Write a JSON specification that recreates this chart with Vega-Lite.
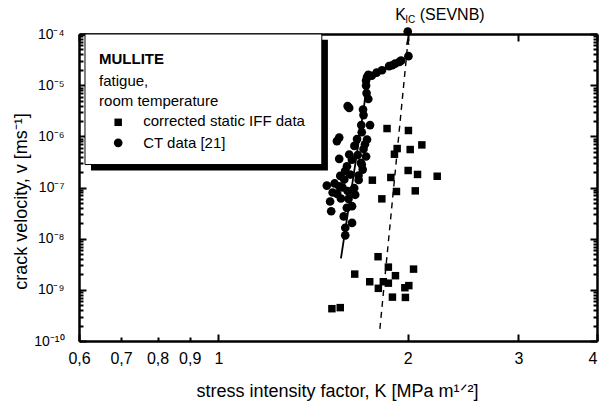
{
  "$schema": "https://vega.github.io/schema/vega-lite/v6.json",
  "width": 518,
  "height": 307,
  "autosize": {"type": "none"},
  "padding": {"left": 79, "top": 34, "right": 2, "bottom": 64},
  "background": "white",
  "config": {"view": {"stroke": null}, "font": "Liberation Sans"},
  "datasets": {
    "iff": [
      {"K": 1.854, "v": 1.42e-6}, {"K": 2.005, "v": 1.30e-6}, {"K": 2.106, "v": 6.8e-7}, {"K": 1.924, "v": 5.77e-7},
      {"K": 2.018, "v": 5.52e-7}, {"K": 1.905, "v": 4.47e-7}, {"K": 2.003, "v": 2.15e-7}, {"K": 2.073, "v": 1.80e-7},
      {"K": 2.228, "v": 1.66e-7}, {"K": 1.757, "v": 1.39e-7}, {"K": 1.880, "v": 1.57e-7}, {"K": 1.919, "v": 8.36e-8},
      {"K": 2.056, "v": 8.6e-8}, {"K": 1.819, "v": 6.0e-8},
      {"K": 1.794, "v": 4.44e-9}, {"K": 1.863, "v": 2.78e-9}, {"K": 2.043, "v": 2.54e-9}, {"K": 1.647, "v": 2.03e-9},
      {"K": 1.912, "v": 1.89e-9}, {"K": 1.740, "v": 1.44e-9}, {"K": 1.829, "v": 1.44e-9}, {"K": 1.863, "v": 1.35e-9},
      {"K": 1.796, "v": 1.07e-9}, {"K": 2.008, "v": 1.21e-9}, {"K": 1.979, "v": 1.10e-9}, {"K": 1.891, "v": 7.2e-10},
      {"K": 1.983, "v": 7.1e-10}, {"K": 1.515, "v": 4.28e-10}, {"K": 1.562, "v": 4.49e-10}
    ],
    "ct": [
      {"K": 2.005, "v": 3.69e-5}, {"K": 1.952, "v": 3.01e-5}, {"K": 1.910, "v": 2.63e-5}, {"K": 1.868, "v": 2.35e-5},
      {"K": 1.820, "v": 1.96e-5}, {"K": 1.785, "v": 1.76e-5}, {"K": 1.753, "v": 1.53e-5}, {"K": 1.723, "v": 1.44e-5},
      {"K": 1.717, "v": 1.23e-5}, {"K": 1.717, "v": 9.8e-6}, {"K": 1.731, "v": 5.38e-6}, {"K": 1.614, "v": 3.59e-6},
      {"K": 1.698, "v": 3.33e-6}, {"K": 1.701, "v": 2.60e-6}, {"K": 1.687, "v": 1.66e-6}, {"K": 1.742, "v": 1.66e-6},
      {"K": 1.556, "v": 9.46e-7}, {"K": 1.543, "v": 8.08e-7}, {"K": 1.661, "v": 8.84e-7}, {"K": 1.723, "v": 8.65e-7},
      {"K": 1.701, "v": 5.64e-7}, {"K": 1.614, "v": 4.41e-7}, {"K": 1.665, "v": 4.31e-7}, {"K": 1.556, "v": 3.63e-7},
      {"K": 1.717, "v": 4.03e-7}, {"K": 1.685, "v": 3.03e-7}, {"K": 1.601, "v": 2.60e-7}, {"K": 1.696, "v": 2.24e-7},
      {"K": 1.562, "v": 1.69e-7}, {"K": 1.620, "v": 1.79e-7}, {"K": 1.670, "v": 1.71e-7}, {"K": 1.585, "v": 1.43e-7},
      {"K": 1.671, "v": 1.40e-7}, {"K": 1.487, "v": 1.09e-7}, {"K": 1.556, "v": 1.06e-7}, {"K": 1.644, "v": 9.77e-8},
      {"K": 1.519, "v": 7.98e-8}, {"K": 1.605, "v": 8.54e-8}, {"K": 1.566, "v": 6.10e-8}, {"K": 1.505, "v": 5.33e-8},
      {"K": 1.511, "v": 3.44e-8}, {"K": 1.631, "v": 4.31e-8}, {"K": 1.582, "v": 2.72e-8}, {"K": 1.631, "v": 2.03e-8},
      {"K": 1.591, "v": 1.63e-8}, {"K": 1.591, "v": 1.16e-8},
      {"K": 1.731, "v": 1.6e-5}, {"K": 1.89, "v": 2.45e-5}, {"K": 1.94, "v": 2.85e-5}, {"K": 1.605, "v": 3.9e-6},
      {"K": 1.72, "v": 7e-6}, {"K": 1.69, "v": 1.2e-6}, {"K": 1.645, "v": 6.5e-7}, {"K": 1.71, "v": 7e-7},
      {"K": 1.63, "v": 3.5e-7}, {"K": 1.59, "v": 2.1e-7}, {"K": 1.53, "v": 1.2e-7}, {"K": 1.545, "v": 7.5e-8},
      {"K": 1.61, "v": 6e-8}, {"K": 1.65, "v": 7.2e-8}, {"K": 1.60, "v": 4e-8}, {"K": 1.575, "v": 1.0e-7},
      {"K": 1.69, "v": 2.8e-7}
    ],
    "fit": [
      {"K": 1.566, "v": 4.11e-9}, {"K": 1.704, "v": 3.81e-6}, {"K": 1.723, "v": 1.17e-5}, {"K": 1.762, "v": 1.68e-5},
      {"K": 1.848, "v": 2.2e-5}, {"K": 1.931, "v": 2.75e-5}, {"K": 2.003, "v": 3.6e-5}
    ],
    "dashed": [
      {"K": 1.806, "v": 1.73e-10}, {"K": 2.0, "v": 6.5e-5}
    ]
  },
  "resolve": {"axis": {"x": "independent", "y": "independent"}},
  "layer": [
    {
      "data": {"values": [{}]},
      "mark": {"type": "rect", "color": "black"},
      "encoding": {
        "x": {"datum": 0.627, "type": "quantitative", "scale": {"type": "log", "domain": [0.6, 4], "nice": false}, "axis": null},
        "x2": {"datum": 1.493},
        "y": {"datum": 7.74e-5, "type": "quantitative", "scale": {"type": "log", "domain": [1e-10, 1e-4], "nice": false}, "axis": null},
        "y2": {"datum": 2.15e-7}
      }
    },
    {
      "data": {"values": [{}]},
      "mark": {"type": "rect", "fill": "white", "stroke": "black", "strokeWidth": 1},
      "encoding": {
        "x": {"datum": 0.6133, "type": "quantitative", "scale": {"type": "log", "domain": [0.6, 4], "nice": false}, "axis": null},
        "x2": {"datum": 1.46},
        "y": {"datum": 1e-4, "type": "quantitative", "scale": {"type": "log", "domain": [1e-10, 1e-4], "nice": false}, "axis": null},
        "y2": {"datum": 2.81e-7}
      }
    },
    {
      "data": {"values": [{}]},
      "mark": {"type": "text", "text": "MULLITE", "font": "Liberation Sans", "fontSize": 15, "fontWeight": "bold", "align": "left", "baseline": "alphabetic", "color": "black"},
      "encoding": {
        "x": {"datum": 0.6457, "type": "quantitative", "scale": {"type": "log", "domain": [0.6, 4], "nice": false}, "axis": null},
        "y": {"datum": 2.63e-5, "type": "quantitative", "scale": {"type": "log", "domain": [1e-10, 1e-4], "nice": false}, "axis": null}
      }
    },
    {
      "data": {"values": [{}]},
      "mark": {"type": "text", "text": "fatigue,", "font": "Liberation Sans", "fontSize": 15, "align": "left", "baseline": "alphabetic", "color": "black"},
      "encoding": {
        "x": {"datum": 0.6457, "type": "quantitative", "scale": {"type": "log", "domain": [0.6, 4], "nice": false}, "axis": null},
        "y": {"datum": 9.8e-6, "type": "quantitative", "scale": {"type": "log", "domain": [1e-10, 1e-4], "nice": false}, "axis": null}
      }
    },
    {
      "data": {"values": [{}]},
      "mark": {"type": "text", "text": "room temperature", "font": "Liberation Sans", "fontSize": 15, "align": "left", "baseline": "alphabetic", "color": "black"},
      "encoding": {
        "x": {"datum": 0.6457, "type": "quantitative", "scale": {"type": "log", "domain": [0.6, 4], "nice": false}, "axis": null},
        "y": {"datum": 3.98e-6, "type": "quantitative", "scale": {"type": "log", "domain": [1e-10, 1e-4], "nice": false}, "axis": null}
      }
    },
    {
      "data": {"values": [{}]},
      "mark": {"type": "text", "text": "corrected static IFF data", "font": "Liberation Sans", "fontSize": 15, "align": "left", "baseline": "alphabetic", "color": "black"},
      "encoding": {
        "x": {"datum": 0.759, "type": "quantitative", "scale": {"type": "log", "domain": [0.6, 4], "nice": false}, "axis": null},
        "y": {"datum": 1.57e-6, "type": "quantitative", "scale": {"type": "log", "domain": [1e-10, 1e-4], "nice": false}, "axis": null}
      }
    },
    {
      "data": {"values": [{}]},
      "mark": {"type": "text", "text": "CT data [21]", "font": "Liberation Sans", "fontSize": 15, "align": "left", "baseline": "alphabetic", "color": "black"},
      "encoding": {
        "x": {"datum": 0.759, "type": "quantitative", "scale": {"type": "log", "domain": [0.6, 4], "nice": false}, "axis": null},
        "y": {"datum": 5.96e-7, "type": "quantitative", "scale": {"type": "log", "domain": [1e-10, 1e-4], "nice": false}, "axis": null}
      }
    },
    {
      "data": {"values": [{}]},
      "mark": {"type": "point", "shape": "square", "filled": true, "color": "black", "opacity": 1, "size": 56},
      "encoding": {
        "x": {"datum": 0.6926, "type": "quantitative", "scale": {"type": "log", "domain": [0.6, 4], "nice": false}, "axis": null},
        "y": {"datum": 1.88e-6, "type": "quantitative", "scale": {"type": "log", "domain": [1e-10, 1e-4], "nice": false}, "axis": null}
      }
    },
    {
      "data": {"values": [{}]},
      "mark": {"type": "point", "shape": "circle", "filled": true, "color": "black", "opacity": 1, "size": 75},
      "encoding": {
        "x": {"datum": 0.6926, "type": "quantitative", "scale": {"type": "log", "domain": [0.6, 4], "nice": false}, "axis": null},
        "y": {"datum": 7.45e-7, "type": "quantitative", "scale": {"type": "log", "domain": [1e-10, 1e-4], "nice": false}, "axis": null}
      }
    },
    {
      "data": {"name": "iff"},
      "mark": {"type": "point", "shape": "square", "filled": true, "color": "black", "opacity": 1, "size": 56},
      "encoding": {
        "x": {
          "field": "K", "type": "quantitative",
          "scale": {"type": "log", "domain": [0.6, 4], "nice": false},
          "axis": {
            "orient": "bottom",
            "values": [0.6, 0.7, 0.8, 0.9, 1, 2, 3, 4],
            "format": ".1~f",
            "labelExpr": "replace(datum.label, '.', ',')",
            "grid": false,
            "domainColor": "black", "domainWidth": 2.5,
            "tickColor": "black", "tickWidth": 2,
            "tickSize": {"condition": {"test": "datum.value == 0.6 || datum.value == 1 || datum.value >= 2", "value": -7}, "value": -4},
            "labelPadding": {"condition": {"test": "datum.value == 0.6 || datum.value == 1 || datum.value >= 2", "value": 16}, "value": 13},
            "labelAlign": {"condition": {"test": "datum.value == 4", "value": "right"}, "value": "center"},
            "labelFont": "Liberation Sans", "labelFontSize": 16, "labelColor": "black", "labelBaseline": "top",
            "labelFlush": false, "labelOverlap": false,
            "title": "stress intensity factor, K [MPa m¹ᐟ²]",
            "titleFont": "Liberation Sans", "titleFontSize": 18, "titleFontWeight": "normal", "titleColor": "black",
            "titleX": 258, "titleY": 55, "titleAlign": "center", "titleBaseline": "alphabetic", "titleAnchor": null
          }
        },
        "y": {
          "field": "v", "type": "quantitative",
          "scale": {"type": "log", "domain": [1e-10, 1e-4], "nice": false},
          "axis": {
            "orient": "left",
            "values": [1e-10, 2e-10, 3e-10, 4e-10, 5e-10, 6e-10, 7e-10, 8e-10, 9e-10,
                       1e-9, 2e-9, 3e-9, 4e-9, 5e-9, 6e-9, 7e-9, 8e-9, 9e-9,
                       1e-8, 2e-8, 3e-8, 4e-8, 5e-8, 6e-8, 7e-8, 8e-8, 9e-8,
                       1e-7, 2e-7, 3e-7, 4e-7, 5e-7, 6e-7, 7e-7, 8e-7, 9e-7,
                       1e-6, 2e-6, 3e-6, 4e-6, 5e-6, 6e-6, 7e-6, 8e-6, 9e-6,
                       1e-5, 2e-5, 3e-5, 4e-5, 5e-5, 6e-5, 7e-5, 8e-5, 9e-5, 1e-4],
            "labelExpr": "abs(log(datum.value)/LN10 - round(log(datum.value)/LN10)) < 0.001 ? '10⁻' + ['','','','','⁴','⁵','⁶','⁷','⁸','⁹','¹⁰'][-round(log(datum.value)/LN10)] : ''",
            "grid": false,
            "domainColor": "black", "domainWidth": 2.5,
            "tickColor": "black", "tickWidth": 2,
            "tickSize": {"condition": {"test": "abs(log(datum.value)/LN10 - round(log(datum.value)/LN10)) < 0.001", "value": -7}, "value": -4},
            "labelPadding": 22,
            "labelFont": "Liberation Sans", "labelFontSize": 14, "labelColor": "black", "labelAlign": "right", "labelBaseline": "middle",
            "labelFlush": false, "labelOverlap": false,
            "title": "crack velocity, v [ms⁻¹]",
            "titleFont": "Liberation Sans", "titleFontSize": 18, "titleFontWeight": "normal", "titleColor": "black",
            "titleX": -58, "titleY": 167, "titleAngle": -90, "titleAlign": "center", "titleBaseline": "middle", "titleAnchor": null
          }
        }
      }
    },
    {
      "data": {"name": "ct"},
      "mark": {"type": "point", "shape": "circle", "filled": true, "color": "black", "opacity": 1, "size": 75},
      "encoding": {
        "x": {"field": "K", "type": "quantitative", "scale": {"type": "log", "domain": [0.6, 4], "nice": false}, "axis": null},
        "y": {"field": "v", "type": "quantitative", "scale": {"type": "log", "domain": [1e-10, 1e-4], "nice": false}, "axis": null}
      }
    },
    {
      "data": {"name": "fit"},
      "mark": {"type": "line", "color": "black", "strokeWidth": 1.8},
      "encoding": {
        "x": {"field": "K", "type": "quantitative", "scale": {"type": "log", "domain": [0.6, 4], "nice": false}, "axis": null},
        "y": {"field": "v", "type": "quantitative", "scale": {"type": "log", "domain": [1e-10, 1e-4], "nice": false}, "axis": null}
      }
    },
    {
      "data": {"name": "dashed"},
      "mark": {"type": "line", "color": "black", "strokeWidth": 1.4, "strokeDash": [6, 5]},
      "encoding": {
        "x": {
          "field": "K", "type": "quantitative",
          "scale": {"type": "log", "domain": [0.6, 4], "nice": false},
          "axis": {
            "orient": "top",
            "values": [0.6, 0.7, 0.8, 0.9, 1, 2, 3, 4],
            "labels": false, "title": null, "grid": false,
            "domainColor": "black", "domainWidth": 2.5,
            "tickColor": "black", "tickWidth": 2,
            "tickSize": {"condition": {"test": "datum.value == 0.6 || datum.value == 1 || datum.value >= 2", "value": -7}, "value": -4}
          }
        },
        "y": {
          "field": "v", "type": "quantitative",
          "scale": {"type": "log", "domain": [1e-10, 1e-4], "nice": false},
          "axis": {
            "orient": "right",
            "values": [1e-10, 2e-10, 3e-10, 4e-10, 5e-10, 6e-10, 7e-10, 8e-10, 9e-10,
                       1e-9, 2e-9, 3e-9, 4e-9, 5e-9, 6e-9, 7e-9, 8e-9, 9e-9,
                       1e-8, 2e-8, 3e-8, 4e-8, 5e-8, 6e-8, 7e-8, 8e-8, 9e-8,
                       1e-7, 2e-7, 3e-7, 4e-7, 5e-7, 6e-7, 7e-7, 8e-7, 9e-7,
                       1e-6, 2e-6, 3e-6, 4e-6, 5e-6, 6e-6, 7e-6, 8e-6, 9e-6,
                       1e-5, 2e-5, 3e-5, 4e-5, 5e-5, 6e-5, 7e-5, 8e-5, 9e-5, 1e-4],
            "labels": false, "title": null, "grid": false,
            "domainColor": "black", "domainWidth": 2.5,
            "tickColor": "black", "tickWidth": 2,
            "tickSize": {"condition": {"test": "abs(log(datum.value)/LN10 - round(log(datum.value)/LN10)) < 0.001", "value": -7}, "value": -4}
          }
        }
      }
    },
    {
      "data": {"values": [{}]},
      "mark": {"type": "point", "shape": "M0,-1L0.45,1L-0.45,1Z", "filled": true, "color": "black", "opacity": 1, "size": 64},
      "encoding": {
        "x": {"datum": 2.0, "type": "quantitative", "scale": {"type": "log", "domain": [0.6, 4], "nice": false}, "axis": null},
        "y": {"datum": 7.4e-5, "type": "quantitative", "scale": {"type": "log", "domain": [1e-10, 1e-4], "nice": false}, "axis": null}
      }
    },
    {
      "data": {"values": [{}]},
      "mark": {"type": "point", "shape": "circle", "filled": true, "color": "black", "opacity": 1, "size": 75},
      "encoding": {
        "x": {"datum": 2.0, "type": "quantitative", "scale": {"type": "log", "domain": [0.6, 4], "nice": false}, "axis": null},
        "y": {"datum": 1.12e-4, "type": "quantitative", "scale": {"type": "log", "domain": [1e-10, 1e-4], "nice": false}, "axis": null}
      }
    },
    {
      "data": {"values": [{}]},
      "mark": {"type": "text", "text": "K", "font": "Liberation Sans", "fontSize": 16, "align": "left", "baseline": "alphabetic", "color": "black"},
      "encoding": {
        "x": {"datum": 1.91, "type": "quantitative", "scale": {"type": "log", "domain": [0.6, 4], "nice": false}, "axis": null},
        "y": {"datum": 1.9e-4, "type": "quantitative", "scale": {"type": "log", "domain": [1e-10, 1e-4], "nice": false}, "axis": null}
      }
    },
    {
      "data": {"values": [{}]},
      "mark": {"type": "text", "text": "IC", "font": "Liberation Sans", "fontSize": 10, "align": "left", "baseline": "alphabetic", "color": "black"},
      "encoding": {
        "x": {"datum": 1.982, "type": "quantitative", "scale": {"type": "log", "domain": [0.6, 4], "nice": false}, "axis": null},
        "y": {"datum": 1.63e-4, "type": "quantitative", "scale": {"type": "log", "domain": [1e-10, 1e-4], "nice": false}, "axis": null}
      }
    },
    {
      "data": {"values": [{}]},
      "mark": {"type": "text", "text": "(SEVNB)", "font": "Liberation Sans", "fontSize": 16, "align": "left", "baseline": "alphabetic", "color": "black"},
      "encoding": {
        "x": {"datum": 2.09, "type": "quantitative", "scale": {"type": "log", "domain": [0.6, 4], "nice": false}, "axis": null},
        "y": {"datum": 1.9e-4, "type": "quantitative", "scale": {"type": "log", "domain": [1e-10, 1e-4], "nice": false}, "axis": null}
      }
    }
  ]
}
